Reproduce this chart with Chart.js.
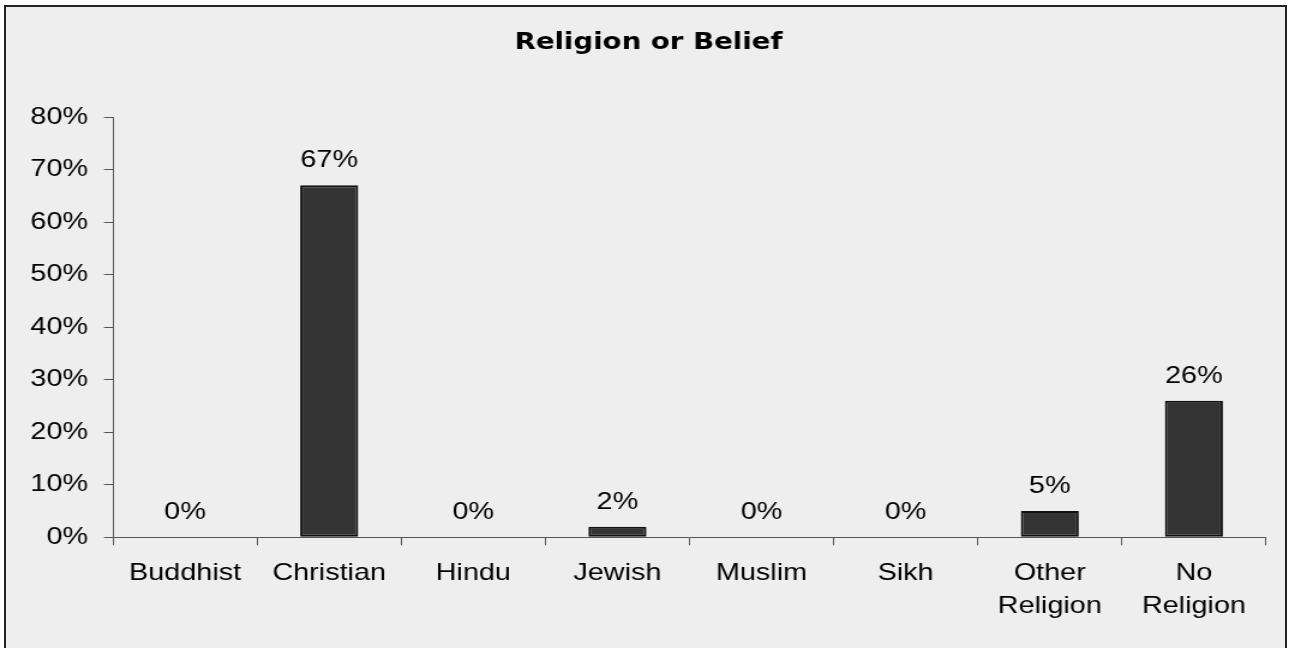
<!DOCTYPE html>
<html>
<head>
<meta charset="utf-8">
<script src="https://cdn.jsdelivr.net/npm/chart.js@4/dist/chart.umd.min.js"></script>
<style>
  html, body { margin: 0; padding: 0; background: #ffffff; overflow: hidden; }
  #frame {
    position: absolute; left: 4px; top: 5px;
    width: 1279px; height: 700px;
    border: 2px solid #222222; background: #eeeeee;
  }
  #wrap {
    position: absolute; left: 0; top: 0;
    width: 1074px; height: 648px;
    transform: scaleX(1.20019);
    transform-origin: 0 0;
  }
</style>
</head>
<body>
<div id="frame"></div>
<div id="wrap"><canvas id="chart" width="1074" height="648"></canvas></div>
<script>
// Survey answers: share of respondents by religion or belief
const categories = ['Buddhist', 'Christian', 'Hindu', 'Jewish', 'Muslim', 'Sikh', ['Other', 'Religion'], ['No', 'Religion']];
const shares = [0, 67, 0, 2, 0, 0, 5, 26];
const yTicks = [0, 10, 20, 30, 40, 50, 60, 70, 80];

const TEXT_FONT = "'Liberation Sans', Arial, sans-serif";

// Percentage label above every bar
const valueLabels = {
  id: 'valueLabels',
  afterDatasetsDraw(chart) {
    const ctx = chart.ctx;
    const meta = chart.getDatasetMeta(0);
    ctx.save();
    ctx.font = '24px ' + TEXT_FONT;
    ctx.fillStyle = '#000000';
    ctx.textAlign = 'center';
    ctx.textBaseline = 'alphabetic';
    meta.data.forEach((bar, i) => {
      ctx.fillText(shares[i] + '%', bar.x, bar.y - 18);
    });
    ctx.restore();
  }
};

// Centre the title on the whole frame rather than on the padded layout box
const titleSpan = {
  id: 'titleSpan',
  afterLayout(chart) {
    const t = chart.titleBlock;
    if (t) {
      t.left = 0;
      t.right = 1080.6;
    }
  }
};

new Chart(document.getElementById('chart'), {
  type: 'bar',
  data: {
    labels: categories,
    datasets: [{
      data: shares,
      backgroundColor: '#333333',
      borderColor: '#111111',
      borderWidth: 2,
      borderSkipped: false,
      barPercentage: 0.4025,
      categoryPercentage: 1.0
    }]
  },
  options: {
    responsive: false,
    animation: false,
    events: [],
    layout: { padding: { left: 0, right: 19.2, top: 0, bottom: 0 } },
    plugins: {
      legend: { display: false },
      tooltip: { enabled: false },
      title: {
        display: true,
        text: 'Religion or Belief',
        color: '#000000',
        font: { family: "'DejaVu Sans', Verdana, sans-serif", size: 23, weight: 'bold', lineHeight: 1.2 },
        padding: { top: 28.8, bottom: 60.6 }
      }
    },
    scales: {
      x: {
        grid: {
          offset: true,
          drawOnChartArea: false,
          drawTicks: true,
          tickLength: 8,
          color: '#555555'
        },
        border: { color: '#555555', width: 1 },
        ticks: {
          color: '#000000',
          padding: 11.2,
          maxRotation: 0,
          autoSkip: false,
          font: { family: TEXT_FONT, size: 24, lineHeight: 1.375 }
        },
        afterFit(scale) { scale.height = 110.7; }
      },
      y: {
        min: 0,
        max: 80,
        afterBuildTicks(scale) { scale.ticks = yTicks.map(v => ({ value: v })); },
        grid: {
          drawOnChartArea: false,
          drawTicks: true,
          tickLength: 7.5,
          color: '#555555'
        },
        border: { color: '#555555', width: 1 },
        ticks: {
          color: '#000000',
          padding: 13.3,
          font: { family: TEXT_FONT, size: 24 },
          callback: v => v + '%'
        },
        afterFit(scale) { scale.width = 94.15; }
      }
    }
  },
  plugins: [valueLabels, titleSpan]
});
</script>
</body>
</html>
